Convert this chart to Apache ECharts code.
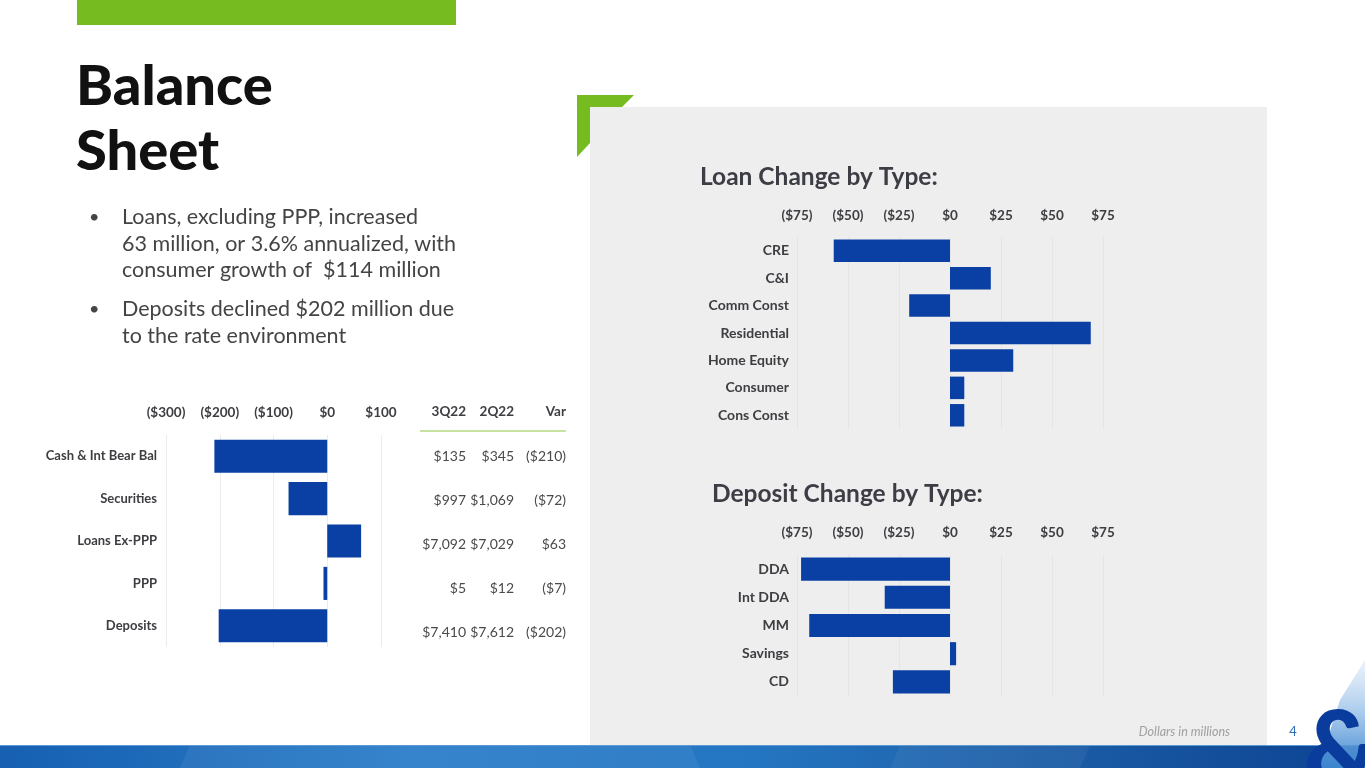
<!DOCTYPE html>
<html>
<head>
<meta charset="utf-8">
<script src="https://cdn.jsdelivr.net/npm/echarts@6/dist/echarts.min.js"></script>
<style>
  html, body { margin: 0; padding: 0; background: #fff; }
  #main { width: 1365px; height: 768px; }
</style>
</head>
<body>
<div id="main"></div>
<script>
// balance sheet (left)
var bsCategories = ['Cash & Int Bear Bal', 'Securities', 'Loans Ex-PPP', 'PPP', 'Deposits'];
var bs3Q22 = [135, 997, 7092, 5, 7410];
var bs2Q22 = [345, 1069, 7029, 12, 7612];
var bsVar = [-210, -72, 63, -7, -202];

// loan change by type
var loanTypes = ['CRE', 'C&I', 'Comm Const', 'Residential', 'Home Equity', 'Consumer', 'Cons Const'];
var loanChange = [-57, 20, -20, 69, 31, 7, 7];

// deposit change by type
var depositTypes = ['DDA', 'Int DDA', 'MM', 'Savings', 'CD'];
var depositChange = [-73, -32, -69, 3, -28];

var tableHeaders = ['3Q22', '2Q22', 'Var'];

var BLUE = '#0a3fa4';
var GREEN = '#76bc21';
var FONT = 'Lato, "Open Sans", sans-serif';

function money(v) {
    var s = '$' + Math.abs(v).toLocaleString('en-US');
    return v < 0 ? '(' + s + ')' : s;
}

function valueAxis(gridIndex, min, max, interval, margin, split) {
    return {
        type: 'value', gridIndex: gridIndex, position: 'top',
        min: min, max: max, interval: interval,
        axisLine: { show: false }, axisTick: { show: false },
        axisLabel: {
            margin: margin, formatter: money,
            color: '#3d3d42', fontFamily: FONT, fontWeight: 'bold', fontSize: 13.5
        },
        splitLine: { show: true, lineStyle: { color: split, width: 1 } }
    };
}

function catAxis(gridIndex, data, margin, size) {
    return {
        type: 'category', gridIndex: gridIndex, data: data, inverse: true,
        axisLine: { show: false }, axisTick: { show: false },
        axisLabel: {
            margin: margin, color: '#3d3d42', fontFamily: FONT,
            fontWeight: 'bold', fontSize: size
        }
    };
}

function tableAxis(data, offset) {
    return {
        type: 'category', gridIndex: 1, data: data, inverse: true,
        position: 'right', offset: offset,
        axisLine: { show: false }, axisTick: { show: false },
        axisLabel: {
            inside: true, margin: 0, formatter: money,
            color: '#4a4a4a', fontFamily: FONT, fontSize: 14
        }
    };
}

var chart = echarts.init(document.getElementById('main'));

var graphics = [
    // top green bar + panel
    { type: 'rect', z: -10, shape: { x: 77, y: 0, width: 379, height: 25 }, style: { fill: GREEN } },
    { type: 'rect', z: -10, shape: { x: 590, y: 107, width: 677, height: 638 }, style: { fill: '#eeeeee' } },
    { type: 'polygon', z: -9, shape: { points: [[577, 95], [634, 95], [622, 107], [590, 107], [590, 143], [577, 157]] }, style: { fill: GREEN } },

    // title
    { type: 'text', style: { text: 'Balance', x: 76, y: 87, font: '900 56px ' + FONT, fill: '#111', verticalAlign: 'middle' } },
    { type: 'text', style: { text: 'Sheet', x: 76, y: 152, font: '900 56px ' + FONT, fill: '#111', verticalAlign: 'middle' } },

    // bullets
    { type: 'text', style: { text: '•', x: 89, y: 217, font: '18px ' + FONT, fill: '#444', verticalAlign: 'middle' } },
    { type: 'text', style: { text: 'Loans, excluding PPP, increased', x: 122, y: 217, font: '21.5px ' + FONT, fill: '#444', verticalAlign: 'middle' } },
    { type: 'text', style: { text: '63 million, or 3.6% annualized, with', x: 122, y: 244, font: '21.5px ' + FONT, fill: '#444', verticalAlign: 'middle' } },
    { type: 'text', style: { text: 'consumer growth of  $114 million', x: 122, y: 270, font: '21.5px ' + FONT, fill: '#444', verticalAlign: 'middle' } },
    { type: 'text', style: { text: '•', x: 89, y: 309, font: '18px ' + FONT, fill: '#444', verticalAlign: 'middle' } },
    { type: 'text', style: { text: 'Deposits declined $202 million due', x: 122, y: 309, font: '21.5px ' + FONT, fill: '#444', verticalAlign: 'middle' } },
    { type: 'text', style: { text: 'to the rate environment', x: 122, y: 336, font: '21.5px ' + FONT, fill: '#444', verticalAlign: 'middle' } },

    // table header + rule
    { type: 'text', style: { text: tableHeaders[0], x: 466, y: 412, font: 'bold 13.5px ' + FONT, fill: '#3d3d42', align: 'right', verticalAlign: 'middle' } },
    { type: 'text', style: { text: tableHeaders[1], x: 514, y: 412, font: 'bold 13.5px ' + FONT, fill: '#3d3d42', align: 'right', verticalAlign: 'middle' } },
    { type: 'text', style: { text: tableHeaders[2], x: 566, y: 412, font: 'bold 13.5px ' + FONT, fill: '#3d3d42', align: 'right', verticalAlign: 'middle' } },
    { type: 'line', shape: { x1: 420, y1: 431, x2: 566, y2: 431 }, style: { stroke: '#8dc63f', lineWidth: 1 } },

    // chart titles
    { type: 'text', style: { text: 'Loan Change by Type:', x: 700, y: 177, font: 'bold 24.5px ' + FONT, fill: '#3d3d45', verticalAlign: 'middle' } },
    { type: 'text', style: { text: 'Deposit Change by Type:', x: 712, y: 494, font: 'bold 24.5px ' + FONT, fill: '#3d3d45', verticalAlign: 'middle' } },

    // footer
    { type: 'text', style: { text: 'Dollars in millions', x: 1230, y: 732, font: 'italic 12.5px ' + FONT, fill: '#a0a0a0', align: 'right', verticalAlign: 'middle' } },
    { type: 'text', style: { text: '4', x: 1293, y: 732, font: '13px ' + FONT, fill: '#2d6db8', align: 'center', verticalAlign: 'middle' } },

    // bottom band
    {
        type: 'rect', z: 5, shape: { x: 0, y: 745, width: 1365, height: 23 },
        style: {
            fill: new echarts.graphic.LinearGradient(0, 0, 1, 0, [
                { offset: 0, color: '#1760b2' },
                { offset: 0.3, color: '#2a7dc8' },
                { offset: 0.55, color: '#2476c2' },
                { offset: 0.72, color: '#1f62ab' },
                { offset: 1, color: '#0c4392' }
            ])
        }
    },
    { type: 'polygon', z: 6, shape: { points: [[190, 745], [690, 745], [700, 768], [180, 768]] }, style: { fill: 'rgba(255,255,255,0.06)' } },
    { type: 'polygon', z: 6, shape: { points: [[900, 745], [1090, 745], [1080, 768], [890, 768]] }, style: { fill: 'rgba(255,255,255,0.05)' } },
    { type: 'line', z: 6, shape: { x1: 0, y1: 745.5, x2: 1365, y2: 745.5 }, style: { stroke: '#5c9ad6', lineWidth: 1 } },

    // logo
    {
        type: 'polygon', z: 6, shape: { points: [[1365, 660], [1365, 768], [1318, 768], [1340, 700]] },
        style: {
            fill: new echarts.graphic.LinearGradient(0, 0, 0, 1, [
                { offset: 0, color: 'rgba(200,222,245,0.4)' },
                { offset: 1, color: '#3b86d0' }
            ])
        }
    },
    { type: 'text', z: 7, style: { text: '&', x: 1303, y: 752, font: '900 104px ' + FONT, fill: '#0a3c9e', verticalAlign: 'middle' } }
];

chart.setOption({
    backgroundColor: '#ffffff',
    animation: false,
    graphic: graphics,
    grid: [
        { left: 166, top: 435, width: 215, height: 212 },
        { left: 420, top: 434, width: 146, height: 221 },
        { left: 797, top: 237, width: 306, height: 192 },
        { left: 797, top: 555, width: 306, height: 141 }
    ],
    xAxis: [
        valueAxis(0, -300, 100, 100, 15, '#ececec'),
        { type: 'value', gridIndex: 1, show: false },
        valueAxis(2, -75, 75, 25, 14, '#e5e5e5'),
        valueAxis(3, -75, 75, 25, 15, '#e5e5e5')
    ],
    yAxis: [
        catAxis(0, bsCategories, 9, 13),
        tableAxis(bsVar, 0),
        catAxis(2, loanTypes, 8, 14),
        catAxis(3, depositTypes, 8, 14),
        tableAxis(bs2Q22, -52),
        tableAxis(bs3Q22, -100)
    ],
    series: [
        {
            type: 'bar', xAxisIndex: 0, yAxisIndex: 0, data: bsVar,
            barWidth: '78%', itemStyle: { color: BLUE }
        },
        {
            type: 'bar', xAxisIndex: 2, yAxisIndex: 2, data: loanChange,
            barWidth: '82%', itemStyle: { color: BLUE }
        },
        {
            type: 'bar', xAxisIndex: 3, yAxisIndex: 3, data: depositChange,
            barWidth: '82%', itemStyle: { color: BLUE }
        }
    ]
});
</script>
</body>
</html>
